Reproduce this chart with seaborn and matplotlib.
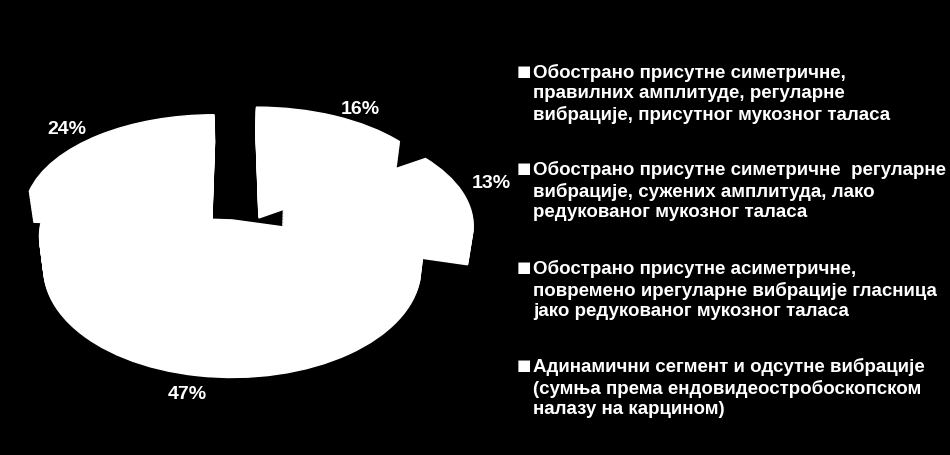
import matplotlib
matplotlib.use("Agg")
import matplotlib.pyplot as plt
from matplotlib.transforms import Transform
import numpy as np
import seaborn as sns

values = [16, 13, 47, 24]
pct_labels = ["16%", "13%", "47%", "24%"]
explode = [0.28, 0.26, 0.09, 0.19]
legend_labels = [
    "Обострано присутне симетричне,\nправилних амплитуде, регуларне\nвибрације, присутног мукозног таласа",
    "Обострано присутне симетричне  регуларне\nвибрације, сужених амплитуда, лако\nредукованог мукозног таласа",
    "Обострано присутне асиметричне,\nповремено ирегуларне вибрације гласница\nјако редукованог мукозног таласа",
    "Адинамични сегмент и одсутне вибрације\n(сумња према ендовидеостробоскопском\nналазу на карцином)",
]


# perspective view of the flat pie, far side smaller than near side
# side walls also lean inwards a little as z grows
class Tilt(Transform):
    input_dims = 2
    output_dims = 2

    def __init__(self, z):
        super().__init__()
        self.z = z

    def transform_non_affine(self, values):
        u, v = values[:, 0], values[:, 1]
        s = 1 / (1 + 0.15 * v)
        return np.column_stack([235 + 188 * u * s * (1 - 0.0007 * self.z),
                                212 + (self.z - 99 * v) * s])


sns.set_theme(style="white")
plt.rcParams["font.family"] = ["Liberation Sans", "DejaVu Sans"]

fig = plt.figure(figsize=(9.5, 4.56), dpi=100, facecolor="black")
ax = fig.add_axes([0, 0, 1, 1], facecolor="black")

# stack the slices to get the side walls
for z in np.arange(0, 33, 1.5):
    wedges, _ = ax.pie(values, explode=explode, startangle=90, counterclock=False,
                       colors=["white"] * 4, frame=True)
    for w in wedges:
        w.set_transform(Tilt(z) + ax.transData)
        w.set_clip_on(False)

ax.set_aspect("auto")
ax.set_xlim(0, 950)
ax.set_ylim(456, 0)
ax.axis("off")

label_x = [360, 491, 187, 67]
label_y = [110, 184, 395, 130]
for txt, x, y in zip(pct_labels, label_x, label_y):
    ax.text(x, y, txt, color="white", fontsize=14, fontweight="bold", ha="center", va="center")

legend_y = [72, 169, 268, 366]
for txt, y in zip(legend_labels, legend_y):
    ax.text(517, y, "■", color="white", fontsize=11, ha="left", va="center", family=["DejaVu Sans"])
    ax.text(533, y - 8, txt, color="white", fontsize=13.5, fontweight="bold", ha="left", va="top", linespacing=1.25)

fig.savefig("out.png", dpi=100, facecolor="black")
